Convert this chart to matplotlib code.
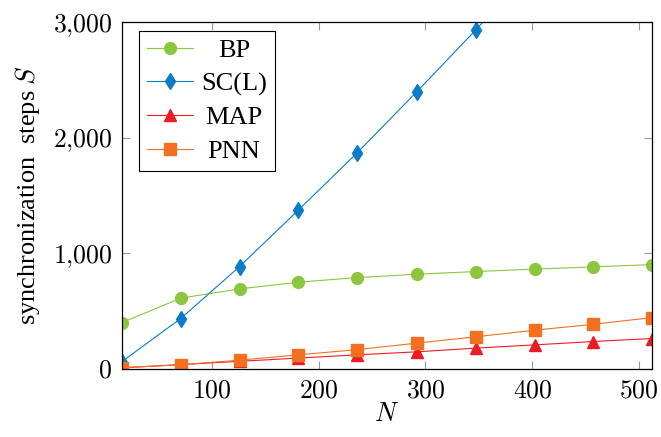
import matplotlib
matplotlib.use('Agg')
import matplotlib.pyplot as plt
from matplotlib.ticker import FuncFormatter

plt.rcParams['mathtext.fontset'] = 'cm'
plt.rcParams['font.family'] = ['Liberation Serif']

N = [16, 71, 126, 181, 236, 292, 347, 402, 457, 512]
bp = [400, 611, 691, 749, 789, 818, 841, 862, 882, 901]
scl = [63, 435, 884, 1372, 1867, 2397, 2930, 3480, 4030, 4580]
map_ = [8, 37, 65, 93, 121, 147, 179, 207, 236, 262]
pnn = [10, 35, 75, 121, 166, 222, 277, 334, 385, 443]

x_ticks = [100, 200, 300, 400, 500]
y_ticks = [0, 1000, 2000, 3000]

fig = plt.figure(figsize=(6.61, 4.37), dpi=100)
ax = fig.add_axes([0.1845, 0.156, 0.802, 0.794])

lw = 0.8
ax.plot(N, bp, color='#8cc63f', marker='o', markersize=8.5, lw=lw, label='BP')
ax.plot(N, scl, color='#0a7cc8', marker='d', markersize=8, lw=lw, label='SC(L)')
ax.plot(N, map_, color='#ed1c24', marker='^', markersize=8.5, lw=lw, label='MAP')
ax.plot(N, pnn, color='#f37021', marker='s', markersize=8, lw=lw, label='PNN')

ax.set_xlim(16, 512)
ax.set_ylim(0, 3000)
ax.set_xticks(x_ticks)
ax.set_yticks(y_ticks)
ax.xaxis.set_major_formatter(FuncFormatter(lambda v, p: r'$%d$' % v))
ax.yaxis.set_major_formatter(
    FuncFormatter(lambda v, p: r'$%s$' % format(int(v), ',').replace(',', '{,}')))
ax.tick_params(direction='in', length=6, width=0.8, color='#999999',
               top=True, right=True, labelsize=18.5, pad=7)
ax.tick_params(axis='x', pad=8.5)
for s in ax.spines.values():
    s.set_linewidth(0.9)

ax.set_xlabel(r'$N$', fontsize=19, labelpad=0)
ax.set_ylabel(r'synchronization  steps $S$', fontsize=19, labelpad=8)

leg = ax.legend(loc='upper left', bbox_to_anchor=(0.032, 0.975), frameon=True,
                fancybox=False, edgecolor='black', framealpha=1,
                prop={'family': 'Liberation Serif', 'size': 19},
                handlelength=1.75, handletextpad=0.3, labelspacing=0.38,
                borderpad=0.3, borderaxespad=0)
leg.get_frame().set_linewidth(0.8)

# center the legend labels like the original
fig.canvas.draw()
r = fig.canvas.get_renderer()
texts = leg.get_texts()
widths = [t.get_window_extent(r).width for t in texts]
wmax = max(widths)
for t, w in zip(texts, widths):
    t.set_position(((wmax - w) / 2, 0))

fig.savefig('out.png', dpi=100)
